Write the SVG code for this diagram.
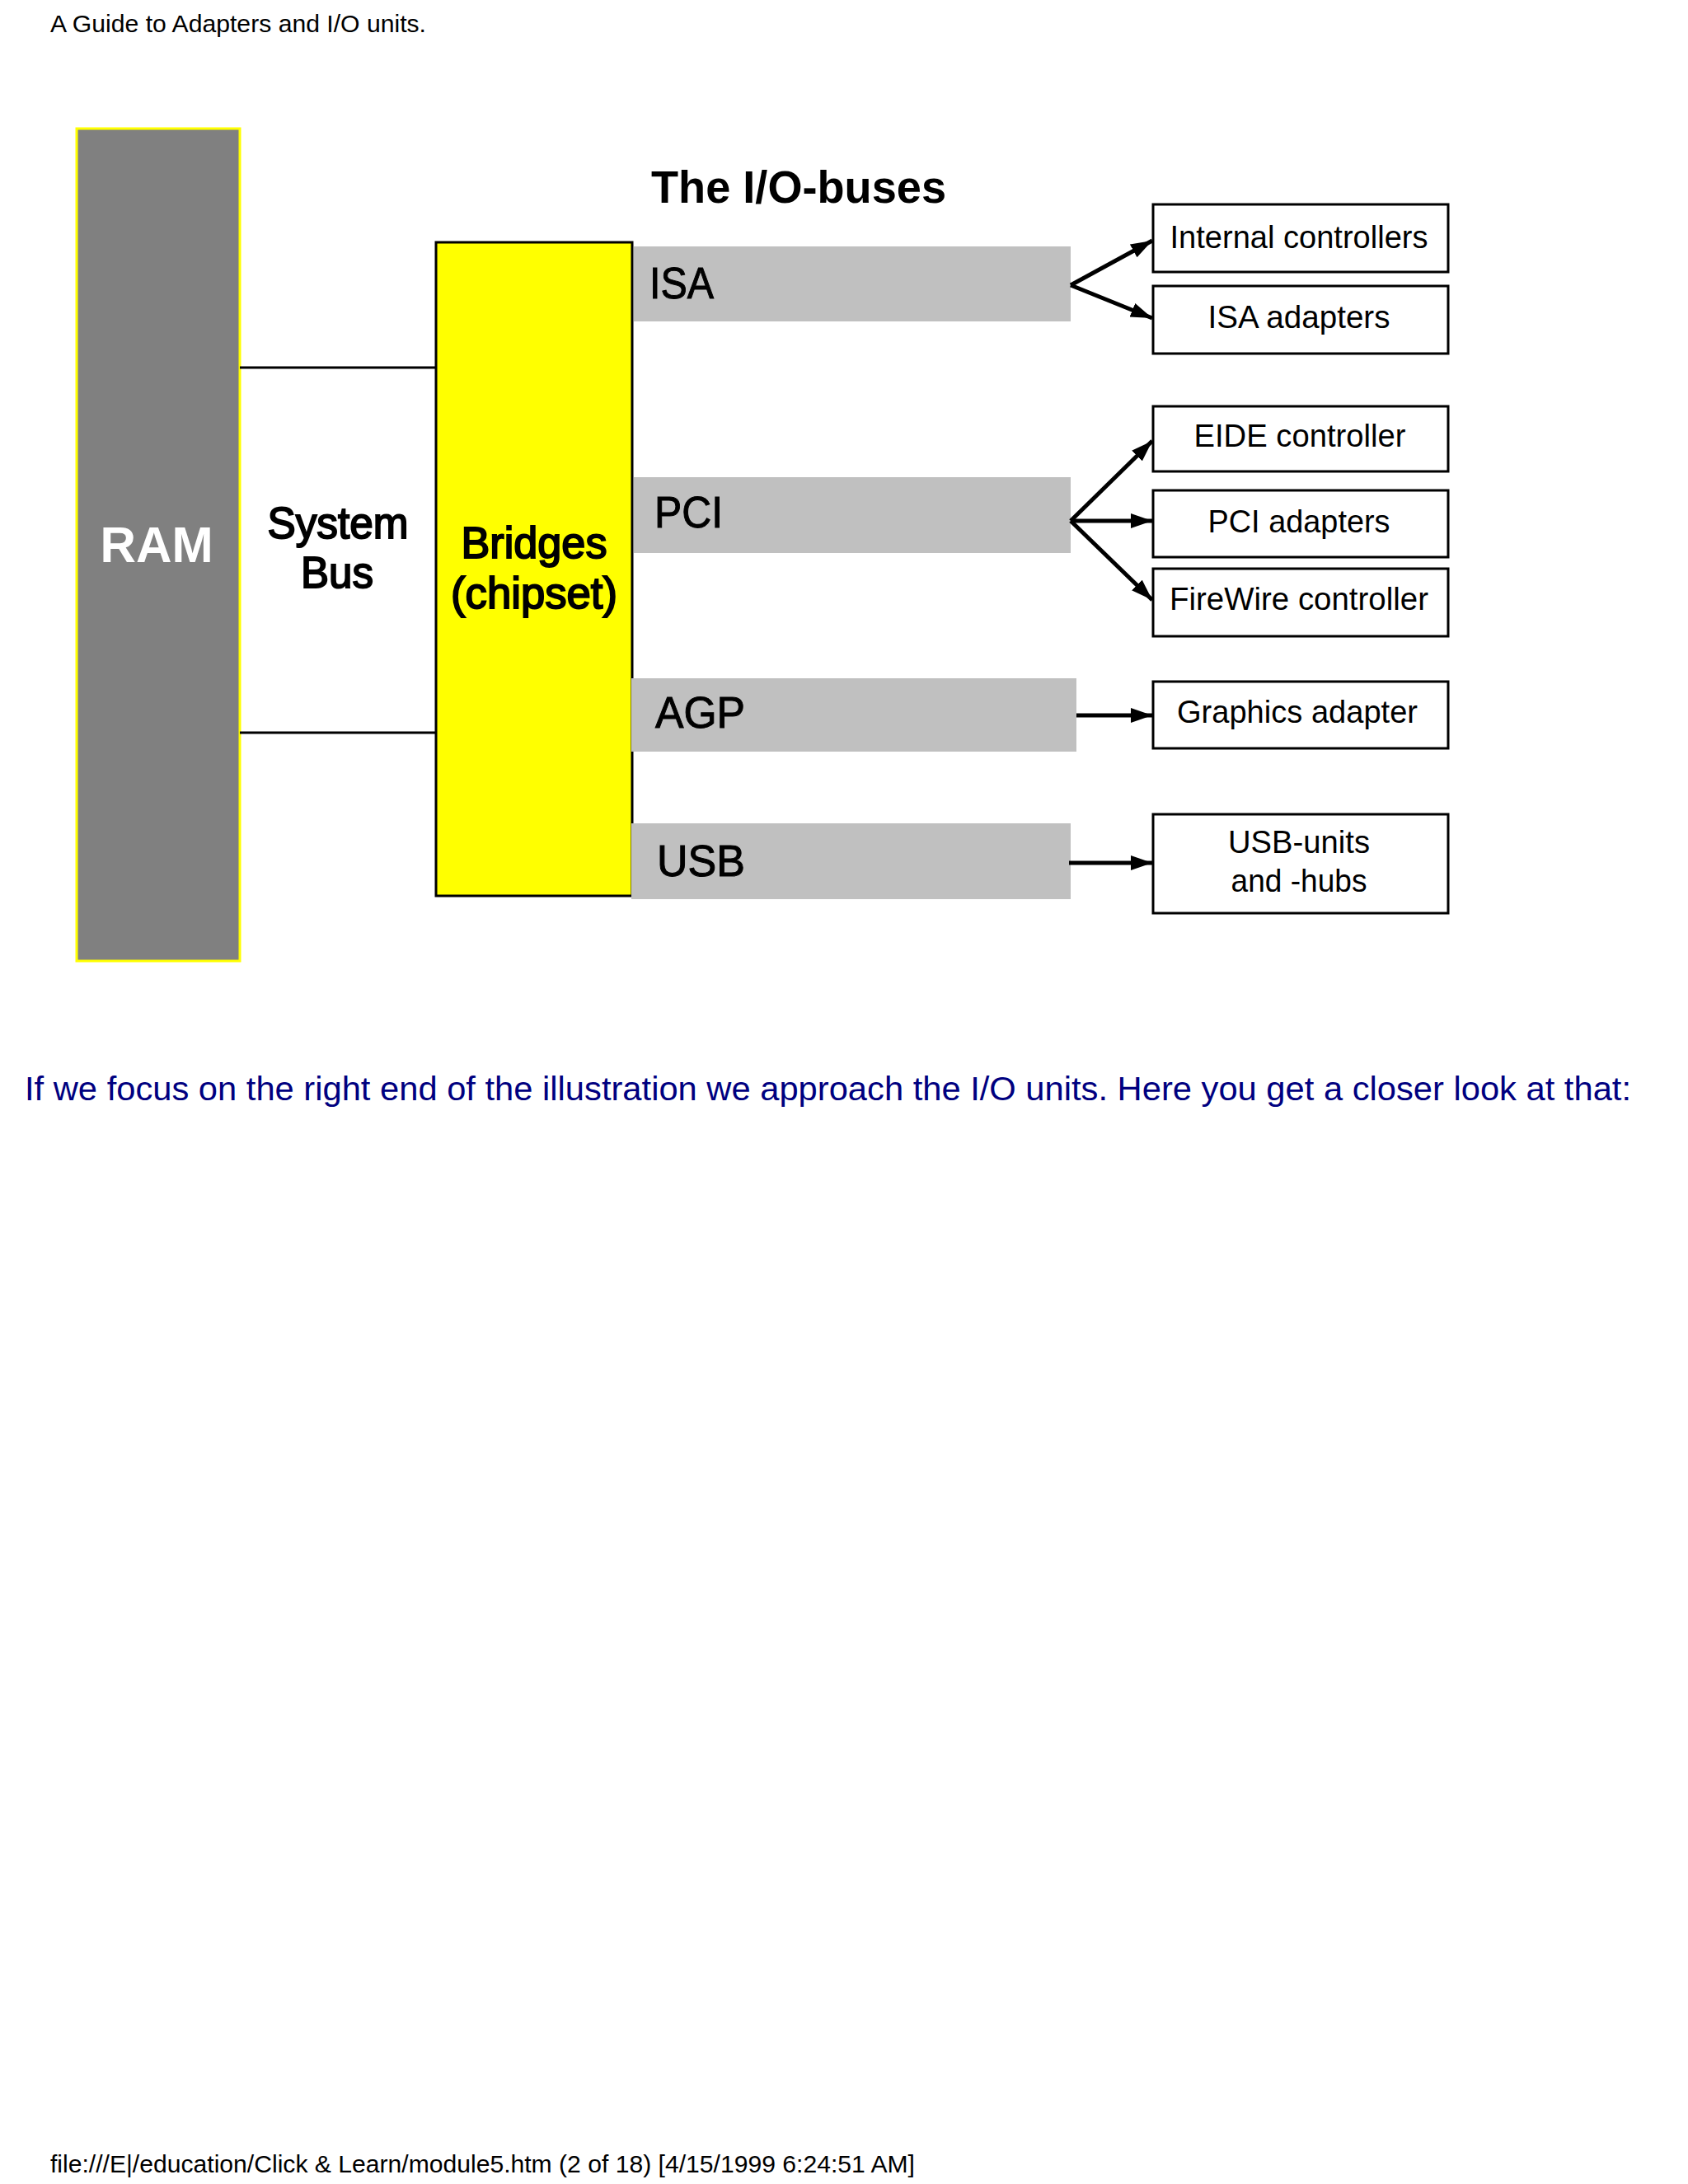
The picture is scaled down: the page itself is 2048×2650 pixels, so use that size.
<svg xmlns="http://www.w3.org/2000/svg" width="2048" height="2650" viewBox="0 0 2048 2650">
<style>
.page{font-family:"Liberation Sans",Arial,sans-serif;fill:#000}
.nav{font-family:"Liberation Sans",Arial,sans-serif;fill:#000080}
.big{font-family:"Liberation Sans",Arial,sans-serif;font-size:54px;fill:#000;stroke:#000;stroke-width:1}
.heavy{stroke-width:2}
.bold{font-weight:bold}
.bus{fill:#c0c0c0}
.box{fill:#fff;stroke:#000;stroke-width:3}
.btxt{font-family:"Liberation Sans",Arial,sans-serif;font-size:39px;fill:#000;text-anchor:middle}
.conn{stroke:#000;stroke-width:3;fill:none}
.arr{stroke:#000;stroke-width:5;fill:none;marker-end:url(#ah)}
</style>
<defs>
<marker id="ah" markerUnits="userSpaceOnUse" markerWidth="28" markerHeight="20" refX="26" refY="10" orient="auto">
<path d="M0,1 L26,10 L0,19 z" fill="#000"/>
</marker>
</defs>
<rect width="2048" height="2650" fill="#fff"/>
<text class="page" x="61" y="39" font-size="30" textLength="456" lengthAdjust="spacingAndGlyphs">A Guide to Adapters and I/O units.</text>

<g id="ram">
<rect x="93" y="156" width="198" height="1010" fill="#808080" stroke="#ffff00" stroke-width="3"/>
<text class="page bold" x="190" y="682" font-size="62" style="fill:#fff" text-anchor="middle" textLength="137" lengthAdjust="spacingAndGlyphs">RAM</text>
</g>

<g id="system-bus">
<text class="big heavy" x="410" y="653" text-anchor="middle" textLength="171" lengthAdjust="spacingAndGlyphs">System</text>
<text class="big heavy" x="409" y="713" text-anchor="middle" textLength="88" lengthAdjust="spacingAndGlyphs">Bus</text>
</g>

<g id="bridges">
<rect x="529" y="294" width="238" height="793" fill="#ffff00" stroke="#000" stroke-width="3"/>
<text class="big heavy" x="648" y="677" text-anchor="middle" textLength="177" lengthAdjust="spacingAndGlyphs">Bridges</text>
<text class="big heavy" x="648" y="738" text-anchor="middle" textLength="202" lengthAdjust="spacingAndGlyphs">(chipset)</text>
</g>

<text class="page bold" x="790" y="246" font-size="55" textLength="358" lengthAdjust="spacingAndGlyphs">The I/O-buses</text>

<g id="isa-bus">
<rect class="bus" x="769" y="299" width="530" height="91"/>
<text class="big" x="788" y="362" textLength="78" lengthAdjust="spacingAndGlyphs">ISA</text>
</g>
<g id="pci-bus">
<rect class="bus" x="769" y="579" width="530" height="92"/>
<text class="big" x="794" y="640" textLength="83" lengthAdjust="spacingAndGlyphs">PCI</text>
</g>
<g id="agp-bus">
<rect class="bus" x="766" y="823" width="540" height="89"/>
<text class="big" x="795" y="883" textLength="109" lengthAdjust="spacingAndGlyphs">AGP</text>
</g>
<g id="usb-bus">
<rect class="bus" x="766" y="999" width="533" height="92"/>
<text class="big" x="797" y="1063" textLength="107" lengthAdjust="spacingAndGlyphs">USB</text>
</g>

<g id="internal-controllers">
<rect class="box" x="1399" y="248" width="358" height="82"/>
<text class="btxt" x="1576" y="301" textLength="313" lengthAdjust="spacingAndGlyphs">Internal controllers</text>
</g>
<g id="isa-adapters">
<rect class="box" x="1399" y="347" width="358" height="82"/>
<text class="btxt" x="1576" y="398" textLength="221" lengthAdjust="spacingAndGlyphs">ISA adapters</text>
</g>
<g id="eide-controller">
<rect class="box" x="1399" y="493" width="358" height="79"/>
<text class="btxt" x="1577" y="542" textLength="257" lengthAdjust="spacingAndGlyphs">EIDE controller</text>
</g>
<g id="pci-adapters">
<rect class="box" x="1399" y="595" width="358" height="81"/>
<text class="btxt" x="1576" y="646" textLength="221" lengthAdjust="spacingAndGlyphs">PCI adapters</text>
</g>
<g id="firewire-controller">
<rect class="box" x="1399" y="690" width="358" height="82"/>
<text class="btxt" x="1576" y="740" textLength="314" lengthAdjust="spacingAndGlyphs">FireWire controller</text>
</g>
<g id="graphics-adapter">
<rect class="box" x="1399" y="827" width="358" height="81"/>
<text class="btxt" x="1574" y="877" textLength="292" lengthAdjust="spacingAndGlyphs">Graphics adapter</text>
</g>
<g id="usb-units">
<rect class="box" x="1399" y="988" width="358" height="120"/>
<text class="btxt" x="1576" y="1035" textLength="172" lengthAdjust="spacingAndGlyphs">USB-units</text>
<text class="btxt" x="1576" y="1082" textLength="165" lengthAdjust="spacingAndGlyphs">and -hubs</text>
</g>

<g id="connectors">
<line class="conn" x1="291" y1="446" x2="529" y2="446"/>
<line class="conn" x1="291" y1="889" x2="529" y2="889"/>
<path class="arr" d="M1299,346 L1398,292"/>
<path class="arr" d="M1299,346 L1398,386"/>
<path class="arr" d="M1299,632 L1398,535"/>
<path class="arr" d="M1299,632 L1398,632"/>
<path class="arr" d="M1299,632 L1398,728"/>
<path class="arr" d="M1306,868 L1398,868"/>
<path class="arr" d="M1297,1047 L1398,1047"/>
</g>

<text class="nav" x="30" y="1335" font-size="40" textLength="1949" lengthAdjust="spacingAndGlyphs">If we focus on the right end of the illustration we approach the I/O units. Here you get a closer look at that:</text>
<text class="page" x="61" y="2636" font-size="30" textLength="1049" lengthAdjust="spacingAndGlyphs">file:///E|/education/Click &amp; Learn/module5.htm (2 of 18) [4/15/1999 6:24:51 AM]</text>
</svg>
